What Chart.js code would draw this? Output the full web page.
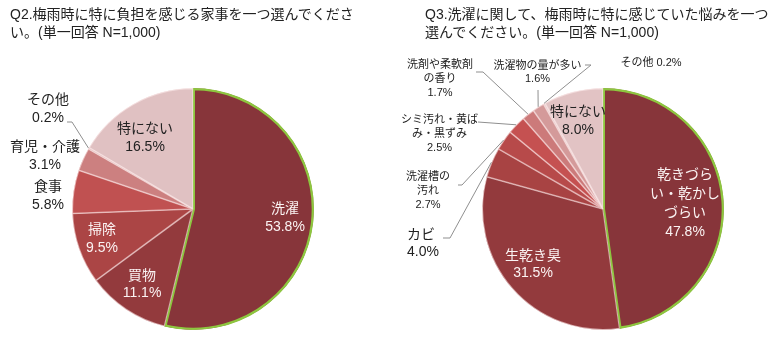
<!DOCTYPE html>
<html lang="ja">
<head>
<meta charset="utf-8">
<title>梅雨時の家事と洗濯の悩み</title>
<script src="https://cdn.jsdelivr.net/npm/chart.js@4.4.0/dist/chart.umd.min.js"></script>
<style>
  html, body { margin: 0; padding: 0; background: #fff; }
  #wrap { position: relative; width: 780px; height: 340px; overflow: hidden; }
  .q { position: absolute; top: 5px; font: 14px/18px "Liberation Sans", "Noto Sans CJK JP", sans-serif; color: #222; white-space: nowrap; }
  canvas { position: absolute; top: 0; }
</style>
</head>
<body>
<div id="wrap">
  <canvas id="q2" width="390" height="340" style="left:0"></canvas>
  <canvas id="q3" width="390" height="340" style="left:390px"></canvas>
  <div class="q" style="left:10px">Q2.梅雨時に特に負担を感じる家事を一つ選んでくださ<br>い。(単一回答 N=1,000)</div>
  <div class="q" style="left:425px">Q3.洗濯に関して、梅雨時に特に感じていた悩みを一つ<br>選んでください。(単一回答 N=1,000)</div>
</div>
<script>
// Q2: 負担を感じる家事 (%)
const q2Categories = ['洗濯', '買物', '掃除', '食事', '育児・介護', 'その他', '特にない'];
const q2Values = [53.8, 11.1, 9.5, 5.8, 3.1, 0.2, 16.5];

// Q3: 洗濯の悩み (%)  \n = 改行位置
const q3Categories = ['乾きづら\nい・乾かし\nづらい', '生乾き臭', 'カビ', '洗濯槽の\n汚れ', 'シミ汚れ・黄ば\nみ・黒ずみ', '洗剤や柔軟剤\nの香り', '洗濯物の量が多い', 'その他', '特にない'];
const q3Values = [47.8, 31.5, 4.0, 2.7, 2.5, 1.7, 1.6, 0.2, 8.0];

const q2Colors = ['#87353a', '#933a3d', '#ab4545', '#c05151', '#cc8080', '#d6a6a6', '#e0c1c2'];
const q3Colors = ['#87353a', '#933a3d', '#a84343', '#b74a4a', '#c55151', '#cc7a7a', '#d49a9a', '#dbb0b0', '#e2c3c4'];

const FONT = '"Liberation Sans", "Noto Sans CJK JP", sans-serif';
const WHITE = '#fbf3f3';
const INK = '#222';

// label block placement, offsets from the pie centre; leader points end at the slice edge
const q2Place = [
  { dx: 92, dy: 9.5, size: 14, lh: 18, color: WHITE },
  { dx: -51, dy: 76, size: 14, lh: 17, color: WHITE },
  { dx: -91, dy: 30, size: 14, lh: 18, color: WHITE },
  { dx: -145, dy: -13, size: 14, lh: 18, color: INK },
  { dx: -148, dy: -53, size: 14, lh: 18, color: INK },
  { dx: -145, dy: -100, size: 14, lh: 18, color: INK, leader: [[-126, -87], [-121, -87]] },
  { dx: -48, dy: -71, size: 14, lh: 18, color: INK }
];
const q3Place = [
  { dx: 82, dy: -5.5, size: 14, lh: 19, color: WHITE },
  { dx: -70, dy: 56, size: 14, lh: 17, color: WHITE },
  { dx: -196, dy: 34.5, size: 14, lh: 17, color: INK, align: 'left', leader: [[-160, 29], [-153, 29]] },
  { dx: -175, dy: -18, size: 11, lh: 14, color: INK, leader: [[-145, -24], [-141, -24]] },
  { dx: -163.5, dy: -75, size: 11, lh: 14, color: INK, leader: [[-125, -87]] },
  { dx: -163, dy: -130, size: 11, lh: 14, color: INK, leader: [[-127, -137], [-120, -137]] },
  { dx: -65.5, dy: -137, size: 11, lh: 13, color: INK, leader: [[-65, -119]] },
  { dx: 48, dy: -146, size: 11, lh: 13, color: INK, inline: true, leader: [[-18, -144], [-12, -144]] },
  { dx: -25, dy: -88, size: 14, lh: 18, color: INK }
];

const sliceLabels = {
  id: 'sliceLabels',
  afterDatasetsDraw(chart, args, opts) {
    const ctx = chart.ctx;
    const meta = chart.getDatasetMeta(0);
    const values = chart.data.datasets[0].data;
    ctx.save();
    meta.data.forEach((arc, i) => {
      const p = opts.place[i];
      const { x, y, startAngle, endAngle, outerRadius } =
        arc.getProps(['x', 'y', 'startAngle', 'endAngle', 'outerRadius'], true);
      const mid = (startAngle + endAngle) / 2;

      if (p.leader) {
        ctx.beginPath();
        ctx.strokeStyle = '#8f8f8f';
        ctx.lineWidth = 1;
        p.leader.forEach(([lx, ly], k) => k ? ctx.lineTo(x + lx, y + ly) : ctx.moveTo(x + lx, y + ly));
        ctx.lineTo(x + Math.cos(mid) * outerRadius, y + Math.sin(mid) * outerRadius);
        ctx.stroke();
      }

      const pct = values[i].toFixed(1) + '%';
      const name = String(chart.data.labels[i]);
      const lines = p.inline ? [name + ' ' + pct] : name.split('\n').concat(pct);
      ctx.font = p.size + 'px ' + FONT;
      ctx.fillStyle = p.color;
      ctx.textAlign = p.align || 'center';
      ctx.textBaseline = 'middle';
      const top = y + p.dy - (lines.length - 1) * p.lh / 2;
      lines.forEach((t, k) => ctx.fillText(t, x + p.dx, top + k * p.lh));
    });
    ctx.restore();
  }
};

function makePie(id, categories, values, colors, place, padding) {
  const borders = values.map((v, i) => i === 0 ? '#8dc63f' : 'rgba(255,238,238,0.55)');
  const widths = values.map((v, i) => i === 0 ? 2 : 0.8);
  return new Chart(document.getElementById(id), {
    type: 'pie',
    data: {
      labels: categories,
      datasets: [{
        data: values,
        backgroundColor: colors,
        borderColor: borders,
        borderWidth: widths,
        borderAlign: 'inner',
        radius: 121
      }]
    },
    options: {
      responsive: false,
      animation: false,
      layout: { padding },
      plugins: {
        legend: { display: false },
        tooltip: { enabled: false },
        sliceLabels: { place }
      }
    },
    plugins: [sliceLabels]
  });
}

makePie('q2', q2Categories, q2Values, q2Colors, q2Place, { left: 73, right: 77, top: 89, bottom: 11 });
makePie('q3', q3Categories, q3Values, q3Colors, q3Place, { left: 93, right: 57, top: 89, bottom: 11 });
</script>
</body>
</html>
